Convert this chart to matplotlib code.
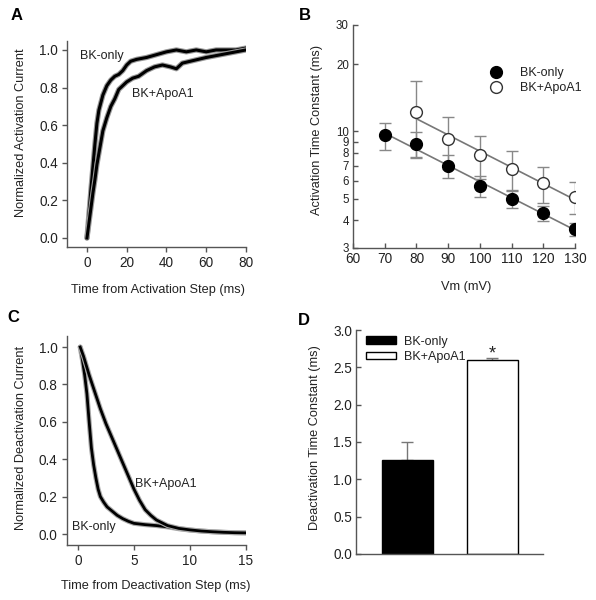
import numpy as np
import matplotlib
matplotlib.use("Agg")
import matplotlib.pyplot as plt
from matplotlib.ticker import FixedLocator, FixedFormatter, NullLocator

plt.rcParams['font.family'] = ['Liberation Sans', 'DejaVu Sans']
plt.rcParams['font.size'] = 9.2
TXT = "#222222"
SPINE = "#555555"
TICK_FS = 9.8

# ---------- A: activation traces ----------
act_t_bk = [0, 1, 2, 3, 4, 5, 6, 8, 10, 12, 14, 16, 18, 20, 22, 25, 30, 35,
            40, 45, 50, 55, 60, 65, 70, 75, 80]
act_v_bk = [0, 0.13, 0.26, 0.38, 0.5, 0.61, 0.68, 0.76, 0.81, 0.84, 0.86,
            0.87, 0.89, 0.92, 0.94, 0.95, 0.96, 0.975, 0.99, 1.0, 0.99, 1.0,
            0.99, 1.0, 1.0, 1.0, 1.01]
act_t_apo = [0, 1, 2, 3, 4, 5, 6, 7, 8, 10, 12, 14, 16, 18, 20, 23, 26, 30,
             34, 38, 42, 45, 48, 52, 56, 60, 65, 70, 75, 80]
act_v_apo = [0, 0.08, 0.16, 0.24, 0.31, 0.39, 0.45, 0.51, 0.57, 0.64, 0.7,
             0.74, 0.79, 0.81, 0.83, 0.85, 0.86, 0.89, 0.91, 0.92, 0.91, 0.9,
             0.93, 0.94, 0.95, 0.96, 0.97, 0.98, 0.99, 1.0]

# ---------- B: activation time constants ----------
vm_bk = [70, 80, 90, 100, 110, 120, 130]
tau_bk = [9.6, 8.8, 7.0, 5.7, 5.0, 4.3, 3.65]
sem_bk = [1.35, 1.15, 0.8, 0.6, 0.45, 0.32, 0.25]
vm_apo = [80, 90, 100, 110, 120, 130]
tau_apo = [12.2, 9.2, 7.8, 6.8, 5.85, 5.1]
sem_apo = [4.6, 2.4, 1.7, 1.4, 1.1, 0.85]
b_yticks = [3, 4, 5, 6, 7, 8, 9, 10, 20, 30]

# ---------- C: deactivation traces ----------
dea_t_bk = [0.2, 0.4, 0.6, 0.8, 1.0, 1.2, 1.4, 1.6, 1.8, 2.0, 2.3, 2.6, 3.0,
            3.5, 4.0, 4.5, 5.0, 6.0, 7.0, 8.0, 9.0, 10, 11, 12, 13, 14, 15]
dea_v_bk = [1.0, 0.93, 0.85, 0.75, 0.6, 0.46, 0.37, 0.3, 0.24, 0.2, 0.17,
            0.145, 0.125, 0.1, 0.082, 0.068, 0.057, 0.05, 0.045, 0.038, 0.028,
            0.021, 0.016, 0.012, 0.009, 0.007, 0.006]
dea_t_apo = [0.2, 0.5, 1.0, 1.5, 2.0, 2.5, 3.0, 3.5, 4.0, 4.5, 5.0, 5.5, 6.0,
             6.5, 7.0, 7.5, 8.0, 9.0, 10, 11, 12, 13, 14, 15]
dea_v_apo = [1.0, 0.95, 0.85, 0.76, 0.67, 0.59, 0.52, 0.45, 0.38, 0.31, 0.24,
             0.18, 0.13, 0.1, 0.075, 0.06, 0.045, 0.03, 0.022, 0.016, 0.012,
             0.009, 0.007, 0.006]

# ---------- D: deactivation time constant bars ----------
groups = ["BK-only", "BK+ApoA1"]
deact_tau = [1.26, 2.60]
deact_sem = [0.24, 0.02]


def style_axes(ax, direction):
    for s in ["top", "right"]:
        ax.spines[s].set_visible(False)
    for s in ["left", "bottom"]:
        ax.spines[s].set_color(SPINE)
        ax.spines[s].set_linewidth(1.0)
    ax.tick_params(direction=direction, length=3.5, width=1.0, color=SPINE,
                   labelcolor=TXT, labelsize=TICK_FS, pad=3)


fig = plt.figure(figsize=(5.96, 6.0), dpi=100)

# ---------- PANEL A ----------
axA = fig.add_axes([0.1126, 0.5877, 0.300, 0.3447])
for t, v in [(act_t_bk, act_v_bk), (act_t_apo, act_v_apo)]:
    axA.plot(t, v, color="#999999", lw=3.8, solid_capstyle="round")
    axA.plot(t, v, color="black", lw=2.2)
axA.set_xlim(-10, 80)
axA.set_ylim(-0.05, 1.05)
axA.set_xticks([0, 20, 40, 60, 80])
axA.set_yticks(np.arange(0, 1.01, 0.2))
axA.yaxis.set_major_formatter(plt.FormatStrFormatter("%.1f"))
style_axes(axA, "out")
axA.set_xlabel("Time from Activation Step (ms)", color=TXT)
axA.set_ylabel("Normalized Activation Current", color=TXT)
axA.xaxis.set_label_coords(0.508, -0.175)
axA.yaxis.set_label_coords(-0.225, 0.553)
axA.text(-3.5, 0.968, "BK-only", color=TXT, va="center", fontsize=9)
axA.text(22.6, 0.766, "BK+ApoA1", color=TXT, va="center", fontsize=9)

# ---------- PANEL B ----------
axB = fig.add_axes([0.5923, 0.5867, 0.3725, 0.3717])
for vm, tau in [(vm_bk, tau_bk), (vm_apo, tau_apo)]:
    k, b = np.polyfit(vm, np.log(tau), 1)
    xs = np.array([vm[0], vm[-1]])
    axB.plot(xs, np.exp(k * xs + b), color="#777777", lw=1.2, zorder=1)
axB.errorbar(vm_bk, tau_bk, yerr=sem_bk, fmt="o", color="black",
             ecolor="#888888", elinewidth=1.0, capsize=4, markersize=8.5,
             markerfacecolor="black", markeredgecolor="black", zorder=3,
             label="BK-only")
axB.errorbar(vm_apo, tau_apo, yerr=sem_apo, fmt="o", color="black",
             ecolor="#888888", elinewidth=1.0, capsize=4, markersize=8.5,
             markerfacecolor="white", markeredgecolor="#333333", zorder=3,
             label="BK+ApoA1")
axB.set_yscale("log")
axB.set_xlim(60, 130)
axB.set_ylim(3, 30)
axB.set_xticks(np.arange(60, 131, 10))
axB.yaxis.set_major_locator(FixedLocator(b_yticks))
axB.yaxis.set_major_formatter(FixedFormatter([str(v) for v in b_yticks]))
axB.yaxis.set_minor_locator(NullLocator())
style_axes(axB, "in")
axB.tick_params(axis="y", labelsize=8.3)
axB.set_xlabel("Vm (mV)", color=TXT)
axB.set_ylabel("Activation Time Constant (ms)", color=TXT)
axB.xaxis.set_label_coords(0.509, -0.15)
axB.yaxis.set_label_coords(-0.135, 0.53)
hB, lB = axB.get_legend_handles_labels()
hB = [h[0] for h in hB]
axB.legend(hB, lB, loc="upper left", bbox_to_anchor=(0.617, 0.81),
           frameon=False, borderpad=0, borderaxespad=0, handlelength=1.0,
           handletextpad=1.4, labelspacing=0.25, fontsize=9,
           labelcolor=TXT)

# ---------- PANEL C ----------
axC = fig.add_axes([0.112, 0.0913, 0.3007, 0.349])
for t, v in [(dea_t_bk, dea_v_bk), (dea_t_apo, dea_v_apo)]:
    axC.plot(t, v, color="#aaaaaa", lw=3.6, solid_capstyle="round")
    axC.plot(t, v, color="black", lw=2.0)
axC.set_xlim(-1, 15)
axC.set_ylim(-0.06, 1.06)
axC.set_xticks([0, 5, 10, 15])
axC.set_yticks(np.arange(0, 1.01, 0.2))
axC.yaxis.set_major_formatter(plt.FormatStrFormatter("%.1f"))
style_axes(axC, "out")
axC.set_xlabel("Time from Deactivation Step (ms)", color=TXT)
axC.set_ylabel("Normalized Deactivation Current", color=TXT)
axC.xaxis.set_label_coords(0.494, -0.165)
axC.yaxis.set_label_coords(-0.22, 0.51)
axC.text(5.09, 0.267, "BK+ApoA1", color=TXT, va="center", fontsize=9)
axC.text(-0.54, 0.04, "BK-only", color=TXT, va="center", fontsize=9)

# ---------- PANEL D ----------
axD = fig.add_axes([0.598, 0.0767, 0.3138, 0.3733])
xpos = np.arange(1, len(groups) + 1)
bars = axD.bar(xpos, deact_tau, width=0.6, color=["black", "white"],
               edgecolor="black", linewidth=1.0, zorder=2)
axD.errorbar(xpos, deact_tau, yerr=[[0, 0], deact_sem], fmt="none",
             ecolor="#777777", elinewidth=1.0, capsize=4, zorder=1)
axD.text(xpos[1], deact_tau[1] + deact_sem[1], "*", ha="center",
         va="baseline", fontsize=13, color=TXT)
axD.set_xlim(0.4, 2.6)
axD.set_ylim(0, 3.0)
axD.set_yticks(np.arange(0, 3.01, 0.5))
axD.yaxis.set_major_formatter(plt.FormatStrFormatter("%.1f"))
axD.set_xticks([])
style_axes(axD, "in")
axD.set_ylabel("Deactivation Time Constant (ms)", color=TXT)
axD.yaxis.set_label_coords(-0.19, 0.52)
axD.legend(bars, groups, loc="upper left", bbox_to_anchor=(0.053, 0.975),
           frameon=False, borderpad=0, borderaxespad=0, handlelength=2.4,
           handleheight=0.55, handletextpad=0.6, labelspacing=0.25,
           fontsize=9, labelcolor=TXT)

# ---------- PANEL LETTERS ----------
for x, y, s in [(0.017, 0.987, "A"), (0.502, 0.987, "B"),
                (0.013, 0.483, "C"), (0.500, 0.478, "D")]:
    fig.text(x, y, s, fontsize=12, fontweight="bold", va="top", ha="left",
             color="black")

fig.savefig("out.png", dpi=100)
